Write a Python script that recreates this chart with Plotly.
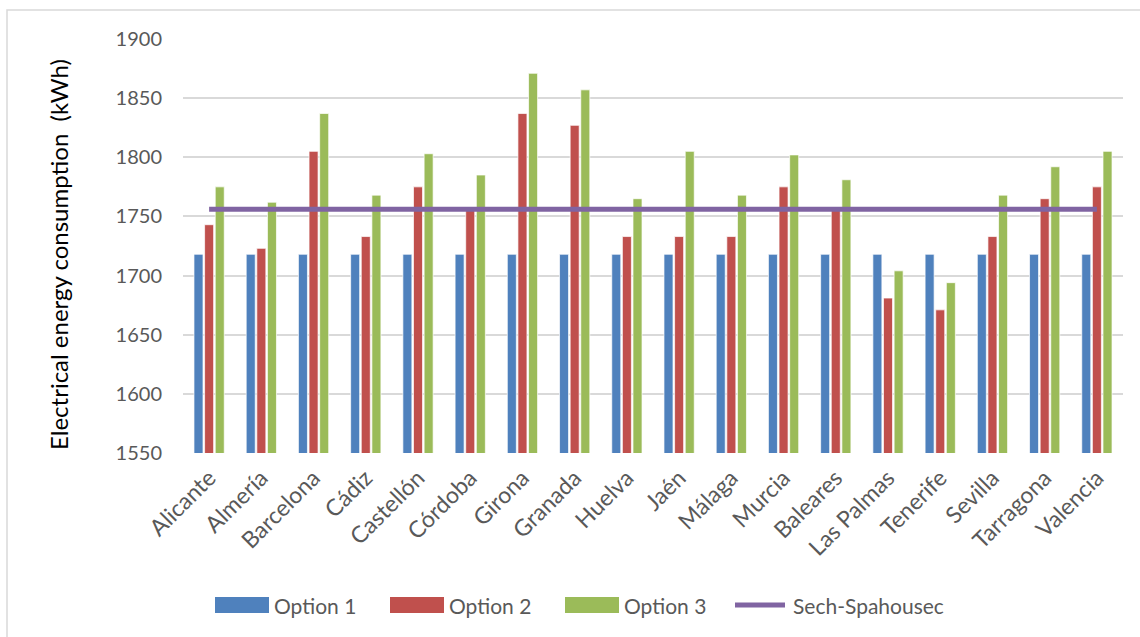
import plotly.graph_objects as go

# Provinces on the category axis
provinces = ["Alicante", "Almería", "Barcelona", "Cádiz", "Castellón", "Córdoba",
             "Girona", "Granada", "Huelva", "Jaén", "Málaga", "Murcia", "Baleares",
             "Las Palmas", "Tenerife", "Sevilla", "Tarragona", "Valencia"]

# Annual electrical energy consumption (kWh) per option
option_1 = [1718, 1718, 1718, 1718, 1718, 1718, 1718, 1718, 1718,
            1718, 1718, 1718, 1718, 1718, 1718, 1718, 1718, 1718]
option_2 = [1743, 1723, 1805, 1733, 1775, 1755, 1837, 1827, 1733,
            1733, 1733, 1775, 1755, 1681, 1671, 1733, 1765, 1775]
option_3 = [1775, 1762, 1837, 1768, 1803, 1785, 1871, 1857, 1765,
            1805, 1768, 1802, 1781, 1704, 1694, 1768, 1792, 1805]
sech_spahousec = [1756, 1756, 1756, 1756, 1756, 1756, 1756, 1756, 1756,
                  1756, 1756, 1756, 1756, 1756, 1756, 1756, 1756, 1756]

y_ticks = [1550, 1600, 1650, 1700, 1750, 1800, 1850, 1900]

series_names = ["Option 1", "Option 2", "Option 3", "Sech-Spahousec"]
series_colors = ["#4F81BD", "#C0504D", "#9BBB59", "#8064A2"]

FONT = "Lato"
TXT = "#595959"
GRID = "#d9d9d9"
edge = dict(color="rgba(255,255,255,0.7)", width=1)

fig = go.Figure()
for vals, name, col in zip([option_1, option_2, option_3], series_names, series_colors):
    fig.add_trace(go.Bar(x=provinces, y=vals, name=name,
                         marker=dict(color=col, line=edge)))
fig.add_trace(go.Scatter(x=provinces, y=sech_spahousec, name=series_names[3],
                         mode="lines", line=dict(color=series_colors[3], width=5)))

W, H = 1140, 637
L, R, T, B = 183, 17, 39, 184
pw, ph = W - L - R, H - T - B


def px_x(x):
    return (x - L) / pw


def px_y(y):
    return (H - B - y) / ph


# Legend row below the axis: swatch then label for each series
legend_y = 605
swatch_left = [215, 390, 565, 733]
label_left = [272, 447, 622, 791]
shapes = []
annotations = []
for i, (name, col) in enumerate(zip(series_names, series_colors)):
    if i < 3:
        shapes.append(dict(type="rect", xref="paper", yref="paper",
                           x0=px_x(swatch_left[i]), x1=px_x(swatch_left[i] + 54),
                           y0=px_y(legend_y + 8), y1=px_y(legend_y - 8),
                           line=dict(width=0), fillcolor=col))
    else:
        shapes.append(dict(type="line", xref="paper", yref="paper",
                           x0=px_x(swatch_left[i] + 2), x1=px_x(swatch_left[i] + 52),
                           y0=px_y(legend_y), y1=px_y(legend_y),
                           line=dict(color=col, width=5)))
    annotations.append(dict(text=name, xref="paper", yref="paper",
                            x=px_x(label_left[i]), y=px_y(legend_y),
                            xanchor="left", yanchor="middle", showarrow=False,
                            font=dict(family=FONT, size=21, color=TXT)))

# Vertical axis title
annotations.append(dict(text="Electrical energy consumption  (kWh)",
                        xref="paper", yref="paper", x=px_x(58), y=px_y(255),
                        xanchor="center", yanchor="middle", textangle=-90,
                        showarrow=False,
                        font=dict(family=FONT, size=24, color="black")))

# Chart-area border
shapes.append(dict(type="rect", xref="paper", yref="paper",
                   x0=px_x(7), x1=px_x(W + 10), y0=px_y(H + 10), y1=px_y(10),
                   line=dict(color=GRID, width=1.5), fillcolor="rgba(0,0,0,0)",
                   layer="below"))

fig.update_layout(
    width=W, height=H,
    margin=dict(l=L, r=R, t=T, b=B, autoexpand=False),
    paper_bgcolor="white", plot_bgcolor="white",
    font=dict(family=FONT, size=20, color=TXT),
    barmode="group", bargap=0.39, bargroupgap=0.15,
    showlegend=False,
    xaxis=dict(type="category", tickangle=-45, showgrid=False, showline=False,
               ticks="", ticklabelstandoff=6,
               tickfont=dict(family=FONT, size=23, color=TXT)),
    yaxis=dict(range=[1550, 1900], tickvals=y_ticks, showgrid=True,
               gridcolor=GRID, gridwidth=1.5, zeroline=False, showline=False,
               ticks="", ticklabelstandoff=20,
               tickfont=dict(family=FONT, size=20, color=TXT)),
    shapes=shapes,
    annotations=annotations,
)

fig.write_html("out.html")
